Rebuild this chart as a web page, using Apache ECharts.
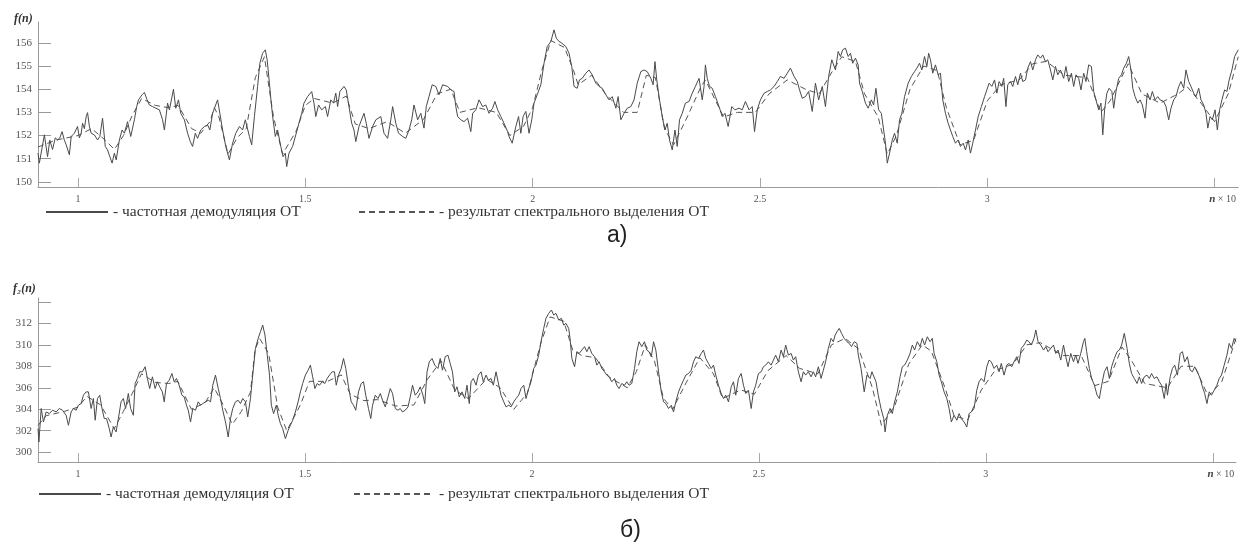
<!DOCTYPE html>
<html>
<head>
<meta charset="utf-8">
<script src="https://cdn.jsdelivr.net/npm/echarts@6/dist/echarts.min.js"></script>
<style>
html, body { margin: 0; padding: 0; background: #fff; }
#grafico { width: 1239px; height: 546px; }
</style>
</head>
<body>
<div id="grafico"></div>
<script>
// подписи и деления осей
var xTicks = [1, 1.5, 2, 2.5, 3, 3.5];
var topYTicks = [150, 151, 152, 153, 154, 155, 156];
var bottomYLabels = [300, 302, 304, 306, 308, 310, 312];
var bottomYTicks = [300, 302, 304, 306, 308, 310, 312, 314];

var solidName = '- частотная демодуляция ОТ';
var dashedName = '- результат спектрального выделения ОТ';

// а) частотная демодуляция, f(n)
var topSolid = [
    [0.912,151.24],[0.915,150.81],[0.926,152.03],[0.933,151.09],[0.938,151.8],[0.944,151.4],[0.950,151.9],[0.955,151.81],[0.960,151.9],[0.965,152.17],[0.970,151.8],[0.974,151.6],[0.981,151.17],[0.985,151.96],[0.992,152.1],[0.999,152.39],[1.003,151.9],[1.007,152.10],[1.010,152.53],[1.014,152.3],[1.018,152.82],[1.021,152.99],[1.025,152.4],[1.029,152.10],[1.036,152.03],[1.043,151.81],[1.048,151.96],[1.054,152.75],[1.060,151.53],[1.065,151.38],[1.070,151.09],[1.075,150.81],[1.080,151.24],[1.084,150.95],[1.091,151.81],[1.097,152.24],[1.102,152.10],[1.109,152.60],[1.116,151.96],[1.124,152.68],[1.129,153.25],[1.133,153.54],[1.141,153.76],[1.146,153.86],[1.152,153.54],[1.157,153.32],[1.164,153.25],[1.171,153.18],[1.179,153.11],[1.186,152.68],[1.190,152.24],[1.197,153.40],[1.201,153.11],[1.210,154.00],[1.215,153.18],[1.221,153.54],[1.226,152.96],[1.234,152.68],[1.241,152.10],[1.247,151.74],[1.252,151.53],[1.258,152.10],[1.263,151.88],[1.270,152.24],[1.278,152.39],[1.285,152.46],[1.290,152.24],[1.296,152.96],[1.307,153.54],[1.312,152.96],[1.318,152.24],[1.325,151.53],[1.333,150.95],[1.340,151.67],[1.347,152.10],[1.355,152.39],[1.362,152.24],[1.368,152.68],[1.377,151.96],[1.382,151.60],[1.388,152.82],[1.395,154.12],[1.400,155.12],[1.406,155.55],[1.412,155.70],[1.416,155.27],[1.421,154.26],[1.425,153.40],[1.429,152.68],[1.434,151.96],[1.439,152.24],[1.446,151.53],[1.451,151.09],[1.456,151.24],[1.459,150.66],[1.464,151.24],[1.472,151.53],[1.479,152.03],[1.486,152.53],[1.492,152.96],[1.497,153.40],[1.505,153.68],[1.514,153.90],[1.519,153.40],[1.523,152.82],[1.529,153.32],[1.536,153.11],[1.544,153.25],[1.549,152.82],[1.556,153.54],[1.562,153.40],[1.567,153.83],[1.571,153.25],[1.576,153.90],[1.585,154.12],[1.590,153.97],[1.596,153.25],[1.602,152.53],[1.607,152.24],[1.611,151.74],[1.618,152.39],[1.629,152.96],[1.634,152.53],[1.640,151.88],[1.648,152.39],[1.655,152.68],[1.666,152.82],[1.673,152.10],[1.681,151.88],[1.688,152.68],[1.692,153.25],[1.699,152.53],[1.705,152.10],[1.714,151.96],[1.721,151.88],[1.728,152.24],[1.734,152.68],[1.739,153.32],[1.747,152.68],[1.754,152.96],[1.761,152.32],[1.766,153.25],[1.772,153.68],[1.779,154.19],[1.787,154.12],
    [1.794,153.76],[1.802,154.19],[1.813,154.12],[1.820,153.97],[1.827,153.90],[1.831,153.25],[1.835,152.82],[1.842,152.68],[1.849,152.60],[1.857,152.75],[1.864,152.17],[1.868,152.96],[1.875,153.11],[1.882,153.54],[1.890,153.25],[1.897,153.32],[1.904,152.96],[1.912,153.18],[1.917,153.47],[1.923,153.11],[1.930,152.82],[1.937,152.53],[1.945,152.17],[1.948,151.96],[1.955,151.67],[1.963,152.39],[1.969,152.82],[1.974,152.10],[1.979,152.82],[1.985,153.04],[1.992,152.10],[1.998,152.68],[2.003,153.40],[2.010,153.76],[2.018,154.19],[2.025,155.12],[2.032,155.84],[2.040,156.06],[2.047,156.56],[2.052,156.20],[2.058,156.06],[2.064,155.99],[2.073,155.84],[2.080,155.55],[2.086,154.98],[2.091,154.12],[2.098,154.04],[2.103,154.40],[2.109,154.47],[2.117,154.69],[2.124,154.83],[2.131,154.62],[2.139,154.26],[2.146,154.12],[2.153,154.04],[2.161,153.76],[2.168,153.54],[2.175,153.68],[2.183,153.18],[2.188,153.68],[2.194,152.68],[2.201,152.96],[2.208,153.18],[2.216,153.25],[2.223,153.54],[2.230,154.26],[2.238,154.76],[2.245,154.83],[2.252,154.76],[2.260,154.47],[2.265,154.19],[2.269,155.19],[2.273,154.40],[2.278,153.68],[2.285,152.82],[2.291,152.24],[2.296,152.53],[2.301,151.81],[2.307,151.38],[2.313,152.24],[2.318,151.53],[2.323,152.68],[2.329,152.96],[2.336,153.40],[2.344,153.47],[2.351,153.83],[2.358,154.12],[2.366,154.47],[2.373,153.54],[2.377,154.12],[2.380,155.05],[2.384,154.47],[2.389,154.12],[2.395,154.04],[2.402,153.68],[2.410,153.25],[2.417,152.82],[2.423,152.96],[2.430,152.39],[2.438,153.25],[2.445,153.11],[2.454,153.18],[2.461,153.11],[2.468,153.47],[2.476,153.11],[2.483,153.25],[2.488,152.17],[2.494,153.11],[2.501,153.54],[2.509,153.83],[2.516,153.90],[2.523,153.97],[2.531,154.12],[2.538,154.33],[2.545,154.55],[2.553,154.47],[2.560,154.69],[2.567,154.91],[2.575,154.55],[2.582,154.33],[2.587,153.97],[2.593,153.61],[2.600,153.68],[2.607,153.90],[2.615,153.04],[2.622,154.26],[2.629,153.54],[2.637,154.12],[2.644,153.25],[2.651,154.55],[2.658,155.27],[2.666,154.83],
    [2.672,155.63],[2.677,155.41],[2.682,155.70],[2.688,155.77],[2.694,155.41],[2.699,155.55],[2.704,155.12],[2.710,155.34],[2.716,155.05],[2.719,154.26],[2.725,153.90],[2.732,153.40],[2.738,153.18],[2.745,153.54],[2.750,153.32],[2.755,154.04],[2.761,153.11],[2.767,152.96],[2.772,152.24],[2.776,151.67],[2.780,150.81],[2.785,151.24],[2.791,151.81],[2.796,152.10],[2.802,151.67],[2.807,152.68],[2.812,152.96],[2.818,153.68],[2.826,154.26],[2.833,154.55],[2.840,154.76],[2.845,154.91],[2.851,155.12],[2.856,154.83],[2.862,155.41],[2.867,154.98],[2.871,155.55],[2.875,155.27],[2.880,154.69],[2.886,155.05],[2.892,154.62],[2.897,154.69],[2.902,153.54],[2.908,152.96],[2.914,152.53],[2.919,152.24],[2.924,151.96],[2.930,151.67],[2.936,151.81],[2.941,151.53],[2.947,151.67],[2.952,151.38],[2.958,151.81],[2.963,151.24],[2.968,151.67],[2.974,152.24],[2.980,152.82],[2.987,153.25],[2.994,153.68],[2.999,153.97],[3.004,154.26],[3.010,154.12],[3.016,154.40],[3.021,153.83],[3.026,154.33],[3.032,154.12],[3.036,154.47],[3.041,153.25],[3.045,154.19],[3.051,154.33],[3.056,154.12],[3.062,154.55],[3.067,154.19],[3.073,154.69],[3.078,154.33],[3.084,154.40],[3.089,154.91],[3.095,155.19],[3.100,154.83],[3.106,155.27],[3.111,155.48],[3.117,155.34],[3.122,155.48],[3.128,155.19],[3.133,155.27],[3.139,154.83],[3.144,154.40],[3.150,154.98],[3.155,154.62],[3.161,154.83],[3.168,154.47],[3.173,154.98],[3.179,154.33],[3.185,154.69],[3.190,154.12],[3.195,154.62],[3.201,154.47],[3.206,153.97],[3.212,154.69],[3.217,154.33],[3.223,155.05],[3.229,154.98],[3.234,153.90],[3.239,153.54],[3.245,153.11],[3.250,153.40],[3.254,152.03],[3.258,153.11],[3.263,153.83],[3.268,154.04],[3.274,153.90],[3.278,153.18],[3.283,153.90],[3.289,154.47],[3.295,154.62],[3.300,154.91],[3.306,155.12],[3.311,155.41],[3.316,154.83],[3.320,154.04],[3.325,153.68],[3.331,153.40],[3.336,153.54],[3.341,153.32],[3.347,152.75],[3.352,153.83],[3.358,153.54],[3.363,153.90],[3.369,153.54],[3.375,153.68],[3.380,153.54],[3.388,153.47],[3.393,153.25],[3.399,152.68],[3.404,153.18],[3.410,153.54],[3.415,153.68],[3.421,154.12],[3.426,154.33],[3.432,154.04],[3.437,154.83],[3.443,154.33],[3.448,154.12],[3.454,153.83],[3.459,153.68],[3.465,154.04],[3.470,153.54],[3.476,153.32],[3.481,152.96],[3.485,152.32],[3.490,152.82],[3.495,152.68],[3.501,153.11],[3.506,152.24],[3.511,153.11],[3.516,153.54],[3.522,153.97],[3.527,153.90],[3.532,154.40],[3.538,154.83],[3.544,155.41],[3.552,155.70]
];

// а) результат спектрального выделения
var topDashed = [
    [0.912,151.5],[0.95,151.8],[1.00,152.0],[1.03,152.3],[1.06,151.8],[1.08,151.4],[1.10,152.0],[1.12,152.9],[1.14,153.6],[1.17,153.3],[1.20,153.2],[1.22,153.3],[1.25,152.3],[1.27,152.1],[1.29,152.6],[1.30,153.2],[1.31,152.8],[1.33,151.2],[1.35,151.9],[1.37,152.3],[1.39,154.5],[1.41,155.4],[1.43,152.8],[1.45,151.2],[1.48,152.2],[1.50,153.3],[1.52,153.6],[1.56,153.4],[1.59,153.7],[1.61,152.5],[1.64,152.3],[1.68,152.6],[1.72,152.1],[1.76,152.7],[1.79,153.8],[1.82,154.0],[1.84,153.0],[1.88,153.2],[1.92,153.0],[1.95,152.0],[1.98,152.4],[2.00,153.2],[2.02,154.8],[2.04,156.1],[2.07,155.8],[2.09,154.8],[2.10,154.2],[2.13,154.6],[2.16,153.8],[2.20,153.0],[2.23,153.0],[2.25,154.6],[2.27,154.5],[2.29,152.3],[2.31,151.6],[2.34,152.8],[2.37,154.1],[2.38,154.4],[2.42,152.8],[2.45,153.0],[2.49,153.0],[2.52,153.8],[2.56,154.4],[2.60,154.0],[2.63,153.8],[2.66,154.8],[2.68,155.4],[2.71,155.2],[2.73,153.8],[2.76,152.8],[2.78,151.2],[2.80,152.0],[2.83,154.0],[2.86,155.0],[2.89,154.8],[2.91,153.2],[2.94,151.6],[2.97,151.8],[3.00,153.5],[3.03,154.2],[3.07,154.4],[3.10,155.1],[3.13,155.2],[3.17,154.6],[3.22,154.5],[3.25,153.0],[3.27,153.5],[3.31,155.1],[3.34,153.8],[3.38,153.4],[3.42,153.8],[3.44,154.1],[3.47,153.4],[3.50,152.6],[3.53,153.8],[3.552,155.4]
];

// б) частотная демодуляция, f2(n)
var bottomSolid = [
    [0.912,302.2],[0.914,300.95],[0.919,304.07],[0.924,302.82],[0.930,303.75],[0.937,303.6],[0.944,303.91],[0.952,303.75],[0.959,304.07],[0.966,303.91],[0.974,303.44],[0.979,302.51],[0.985,303.75],[0.990,304.07],[0.996,303.91],[1.001,304.38],[1.007,304.53],[1.012,305.31],[1.018,305.62],[1.023,305.62],[1.029,304.07],[1.034,305.0],[1.038,302.98],[1.043,305.0],[1.048,305.31],[1.053,304.07],[1.058,303.13],[1.063,303.13],[1.069,302.2],[1.073,301.42],[1.078,302.35],[1.084,301.89],[1.089,303.13],[1.095,304.69],[1.100,305.0],[1.105,304.07],[1.111,305.47],[1.116,304.07],[1.122,303.44],[1.126,306.4],[1.131,306.87],[1.136,307.49],[1.142,307.49],[1.148,307.96],[1.153,306.87],[1.158,305.93],[1.164,307.02],[1.170,305.93],[1.175,306.56],[1.180,306.09],[1.186,305.62],[1.190,304.69],[1.195,306.4],[1.201,306.71],[1.207,307.33],[1.212,306.56],[1.217,306.87],[1.223,306.24],[1.229,305.31],[1.234,305.15],[1.239,304.38],[1.243,303.91],[1.248,302.82],[1.253,304.07],[1.259,303.91],[1.265,304.69],[1.270,304.38],[1.275,304.53],[1.281,304.69],[1.287,304.84],[1.292,304.69],[1.297,306.24],[1.303,307.18],[1.309,305.93],[1.314,305.0],[1.319,303.91],[1.325,302.82],[1.331,301.42],[1.336,303.13],[1.341,304.07],[1.347,304.69],[1.353,304.84],[1.358,304.53],[1.363,305.0],[1.369,304.69],[1.374,303.29],[1.380,305.0],[1.385,307.18],[1.391,309.67],[1.397,310.6],[1.402,311.22],[1.407,311.84],[1.412,310.91],[1.417,309.04],[1.422,307.18],[1.426,304.38],[1.431,303.6],[1.437,304.38],[1.441,303.44],[1.446,302.67],[1.451,302.2],[1.457,301.27],[1.463,302.04],[1.468,302.51],[1.473,302.98],[1.479,303.75],[1.485,304.69],[1.490,305.62],[1.495,306.4],[1.501,307.18],[1.507,307.64],[1.512,308.11],[1.517,307.02],[1.522,305.93],[1.527,306.4],[1.532,306.24],[1.538,306.56],[1.544,306.4],[1.549,306.87],[1.554,307.18],[1.560,307.49],[1.565,307.49],[1.569,306.24],[1.574,307.18],[1.580,307.8],[1.585,308.73],[1.590,307.8],[1.596,306.09],[1.602,304.69],[1.607,304.38],[1.612,303.91],[1.618,305.62],[1.624,306.4],[1.629,306.56],[1.634,305.31],[1.640,304.07],[1.645,303.13],[1.649,304.38],[1.655,305.31],[1.661,305.0],[1.666,305.47],[1.671,304.84],[1.677,304.22],[1.683,305.15],[1.688,305.93],[1.693,305.47],[1.699,304.07],[1.705,303.91],[1.710,304.07],[1.715,303.75],[1.721,303.91],[1.727,304.22],[1.732,305.15],[1.737,306.24],[1.743,305.31],[1.749,305.62],[1.754,306.09],[1.760,305.31],[1.764,304.53],[1.769,307.49],[1.774,308.42],[1.780,308.73],[1.786,308.11],
    [1.793,307.8],[1.798,308.73],[1.803,307.64],[1.809,308.89],[1.815,309.04],[1.820,308.27],[1.825,307.49],[1.830,305.62],[1.835,306.09],[1.840,305.15],[1.846,305.62],[1.852,305.0],[1.857,306.24],[1.862,304.53],[1.866,306.56],[1.871,306.87],[1.877,306.24],[1.882,307.18],[1.888,307.49],[1.893,306.56],[1.899,307.18],[1.904,306.71],[1.910,306.87],[1.915,306.24],[1.921,307.49],[1.927,306.24],[1.932,305.31],[1.938,304.69],[1.943,304.22],[1.949,304.38],[1.954,304.22],[1.960,304.69],[1.965,305.0],[1.971,305.31],[1.976,305.93],[1.982,306.24],[1.987,305.0],[1.993,305.93],[1.998,306.56],[2.004,307.8],[2.009,308.11],[2.015,309.04],[2.020,310.29],[2.026,311.53],[2.031,312.47],[2.037,312.93],[2.043,313.24],[2.048,312.78],[2.053,312.93],[2.059,312.31],[2.065,312.47],[2.070,311.84],[2.075,312.0],[2.081,311.53],[2.084,310.6],[2.088,308.73],[2.094,307.96],[2.099,309.36],[2.104,309.2],[2.110,309.51],[2.116,309.83],[2.121,309.36],[2.126,309.83],[2.132,309.2],[2.138,308.89],[2.143,308.11],[2.148,308.42],[2.154,307.8],[2.160,307.49],[2.165,307.18],[2.170,307.02],[2.176,306.56],[2.182,306.87],[2.187,306.24],[2.192,305.93],[2.198,306.4],[2.204,306.24],[2.209,306.56],[2.214,306.24],[2.220,306.4],[2.226,307.8],[2.231,309.36],[2.236,310.29],[2.242,309.83],[2.248,310.29],[2.253,309.51],[2.258,309.36],[2.263,308.89],[2.268,310.29],[2.273,309.51],[2.279,307.49],[2.285,305.62],[2.290,304.69],[2.295,304.53],[2.301,304.07],[2.307,304.38],[2.312,303.75],[2.317,304.69],[2.323,305.62],[2.329,306.24],[2.334,306.71],[2.339,307.18],[2.345,307.33],[2.351,307.64],[2.356,308.42],[2.361,308.89],[2.367,308.73],[2.373,309.2],[2.378,309.51],[2.383,308.73],[2.389,308.27],[2.395,307.8],[2.400,308.11],[2.405,307.18],[2.411,306.24],[2.417,305.47],[2.422,305.0],[2.427,305.31],[2.433,304.69],[2.439,306.09],[2.444,306.56],[2.449,305.31],[2.455,306.87],[2.461,307.33],[2.466,306.24],[2.471,305.47],[2.477,305.78],[2.483,304.07],[2.488,305.62],[2.493,306.24],[2.499,307.33],[2.505,307.49],[2.510,307.96],[2.515,308.11],[2.521,308.42],[2.527,308.11],[2.532,308.58],[2.537,309.04],[2.543,308.42],[2.549,309.51],[2.554,308.89],[2.559,309.98],[2.565,309.04],[2.571,309.2],[2.576,308.58],[2.581,308.89],[2.587,307.49],[2.593,306.56],[2.598,307.49],[2.603,307.18],[2.609,307.49],[2.615,307.02],[2.620,307.49],[2.625,307.02],[2.631,307.96],[2.637,306.87],[2.642,307.64],[2.647,308.42],[2.653,309.67],[2.659,310.6],[2.664,310.29],[2.668,310.91],
    [2.672,311.22],[2.677,311.53],[2.682,311.07],[2.688,310.6],[2.694,310.29],[2.699,310.13],[2.704,309.83],[2.710,310.29],[2.716,310.13],[2.719,309.04],[2.725,307.8],[2.732,305.62],[2.738,307.18],[2.745,306.87],[2.749,307.49],[2.753,307.33],[2.758,306.56],[2.763,305.31],[2.769,304.07],[2.775,303.13],[2.778,301.89],[2.783,303.44],[2.789,304.07],[2.794,303.6],[2.799,304.69],[2.805,305.62],[2.811,307.02],[2.816,307.96],[2.821,308.11],[2.827,308.58],[2.833,309.2],[2.838,309.98],[2.843,309.51],[2.849,310.29],[2.855,309.83],[2.860,310.6],[2.865,309.98],[2.871,310.75],[2.877,310.29],[2.882,310.6],[2.886,309.2],[2.892,308.42],[2.897,307.18],[2.902,306.56],[2.908,305.62],[2.914,305.0],[2.919,304.07],[2.924,302.82],[2.930,303.44],[2.936,302.98],[2.941,303.6],[2.946,303.13],[2.952,302.82],[2.958,302.35],[2.963,303.6],[2.968,303.75],[2.974,304.07],[2.980,305.78],[2.985,306.56],[2.990,306.87],[2.996,306.56],[3.002,307.96],[3.007,308.58],[3.012,308.42],[3.018,307.8],[3.024,308.11],[3.029,307.49],[3.034,308.27],[3.040,307.18],[3.046,308.11],[3.051,308.27],[3.057,307.96],[3.062,308.42],[3.068,308.89],[3.073,308.27],[3.078,309.67],[3.084,309.98],[3.090,310.44],[3.095,310.29],[3.100,309.98],[3.106,310.6],[3.110,311.38],[3.115,310.29],[3.121,309.98],[3.127,309.51],[3.132,309.83],[3.137,309.36],[3.143,309.67],[3.149,309.98],[3.154,309.2],[3.159,309.51],[3.165,308.58],[3.171,309.98],[3.176,308.89],[3.181,307.96],[3.187,309.2],[3.193,308.42],[3.198,309.04],[3.203,308.27],[3.209,309.2],[3.215,310.29],[3.218,310.6],[3.222,309.36],[3.228,307.8],[3.233,306.87],[3.239,306.24],[3.245,305.31],[3.250,305.0],[3.255,306.24],[3.261,307.49],[3.267,307.96],[3.272,306.87],[3.277,307.96],[3.283,308.73],[3.289,309.36],[3.294,309.51],[3.299,309.98],[3.305,311.07],[3.311,309.67],[3.316,308.27],[3.321,307.33],[3.327,306.87],[3.333,306.4],[3.338,307.02],[3.343,306.4],[3.349,307.02],[3.355,307.18],[3.360,306.87],[3.365,307.33],[3.371,306.87],[3.377,307.02],[3.382,306.56],[3.387,306.24],[3.393,305.0],[3.397,306.4],[3.400,305.31],[3.406,307.02],[3.411,307.8],[3.416,308.11],[3.422,307.18],[3.428,309.2],[3.433,309.36],[3.438,308.42],[3.444,308.89],[3.450,307.64],[3.455,307.49],[3.460,307.96],[3.466,307.49],[3.472,306.87],[3.477,306.09],[3.482,305.47],[3.487,304.53],[3.492,305.62],[3.497,305.31],[3.503,305.78],[3.509,306.24],[3.514,306.87],[3.519,307.18],[3.525,308.11],[3.531,309.04],[3.536,310.13],[3.541,309.67],[3.547,310.6],[3.551,310.3]
];

// б) результат спектрального выделения
var bottomDashed = [
    [0.912,302.5],[0.93,303.4],[0.97,303.8],[1.00,304.2],[1.02,305.2],[1.05,304.4],[1.08,302.2],[1.10,303.8],[1.12,305.5],[1.14,307.3],[1.17,306.5],[1.20,306.4],[1.22,306.6],[1.25,304.0],[1.28,304.6],[1.30,306.0],[1.32,304.4],[1.34,302.6],[1.36,303.8],[1.38,305.6],[1.39,309.5],[1.40,310.6],[1.42,309.2],[1.44,304.2],[1.46,302.0],[1.49,304.4],[1.51,306.6],[1.55,306.6],[1.58,307.2],[1.60,305.4],[1.63,304.8],[1.66,304.9],[1.70,304.3],[1.74,304.4],[1.77,306.8],[1.80,308.5],[1.83,305.8],[1.86,305.0],[1.90,306.8],[1.93,306.0],[1.96,304.0],[1.99,305.5],[2.02,310.2],[2.04,312.6],[2.07,312.2],[2.09,309.5],[2.11,309.0],[2.14,308.8],[2.17,307.0],[2.21,306.0],[2.23,307.5],[2.25,310.0],[2.27,308.5],[2.29,305.0],[2.31,304.0],[2.34,306.5],[2.37,308.8],[2.40,307.3],[2.42,305.0],[2.46,305.8],[2.49,305.4],[2.52,307.6],[2.56,309.0],[2.59,307.8],[2.63,307.3],[2.66,310.0],[2.69,310.6],[2.72,309.6],[2.75,306.0],[2.77,302.5],[2.80,304.4],[2.83,308.2],[2.86,310.0],[2.88,309.4],[2.91,306.0],[2.93,303.4],[2.96,303.0],[2.99,305.8],[3.02,307.6],[3.06,308.2],[3.09,310.0],[3.12,310.2],[3.17,309.0],[3.21,309.0],[3.24,306.2],[3.27,306.6],[3.30,309.8],[3.32,308.6],[3.35,306.4],[3.40,306.0],[3.43,308.0],[3.46,308.0],[3.49,305.2],[3.52,306.6],[3.551,310.6]
];

var serif = '"Liberation Serif", "DejaVu Serif", serif';
var lineColor = '#4a4a4a';
var axisColor = '#9a9a9a';

function xAxisFor(gridIndex, maxN) {
    return {
        type: 'value',
        gridIndex: gridIndex,
        min: 0.912,
        max: maxN,
        axisLine: { show: true, lineStyle: { color: axisColor, width: 1 } },
        axisTick: { show: true, inside: true, length: 9, customValues: xTicks, lineStyle: { color: '#aaa' } },
        axisLabel: {
            customValues: xTicks,
            margin: 7,
            fontSize: 10,
            fontFamily: serif,
            color: '#555',
            formatter: function (v) {
                if (v === 3.5) return '{sp|}{n|n} × 10';
                return String(v);
            },
            rich: {
                sp: { width: 16 },
                n: { fontStyle: 'italic', fontWeight: 'bold', fontSize: 11, fontFamily: serif, color: '#444' }
            }
        },
        splitLine: { show: false }
    };
}

function yAxisFor(gridIndex, min, max, ticks, labels) {
    return {
        type: 'value',
        gridIndex: gridIndex,
        min: min,
        max: max,
        axisLine: { show: true, lineStyle: { color: axisColor, width: 1 } },
        axisTick: { show: true, inside: true, length: 13, customValues: ticks, lineStyle: { color: '#999' } },
        axisLabel: { customValues: labels, margin: 6, fontSize: 11, fontFamily: serif, color: '#555' },
        splitLine: { show: false }
    };
}

// подпись линии без маркера
function legendFor(name, left, top, width) {
    return {
        data: [name],
        left: left,
        top: top,
        itemWidth: width,
        itemHeight: 10,
        selectedMode: false,
        padding: 0,
        itemStyle: { opacity: 0 },
        textStyle: { fontFamily: serif, fontSize: 15.5, color: '#333' }
    };
}

var chartDom = document.getElementById('grafico');
var myChart = echarts.init(chartDom, null, { renderer: 'canvas' });

var option = {
    backgroundColor: '#ffffff',
    animation: false,
    grid: [
        { left: 38, top: 22, width: 1201, height: 165 },
        { left: 38, top: 298, width: 1198, height: 164 }
    ],
    xAxis: [xAxisFor(0, 3.552), xAxisFor(1, 3.551)],
    yAxis: [
        yAxisFor(0, 149.78, 156.9, topYTicks, topYTicks),
        yAxisFor(1, 299.09, 314.36, bottomYTicks, bottomYLabels)
    ],
    legend: [
        legendFor(solidName, 45, 204, 62),
        legendFor(dashedName, 358, 204, 75),
        legendFor(solidName, 38, 486, 62),
        legendFor(dashedName, 353, 486, 80)
    ],
    graphic: [
        { type: 'text', left: 14, top: 13, style: { text: 'f(n)', font: 'italic bold 12px "Liberation Serif"', fill: '#333' } },
        { type: 'text', left: 13, top: 283, style: { text: 'f₂(n)', font: 'italic bold 12px "Liberation Serif"', fill: '#333' } },
        { type: 'text', left: 607, top: 224, style: { text: 'а)', font: '23px "Liberation Sans"', fill: '#222' } },
        { type: 'text', left: 620, top: 519, style: { text: 'б)', font: '23px "Liberation Sans"', fill: '#222' } }
    ],
    series: [
        {
            name: solidName, type: 'line', xAxisIndex: 0, yAxisIndex: 0,
            data: topSolid, symbol: 'none', showSymbol: false,
            lineStyle: { color: lineColor, width: 1 }, itemStyle: { color: lineColor }, z: 3
        },
        {
            name: dashedName, type: 'line', xAxisIndex: 0, yAxisIndex: 0,
            data: topDashed, symbol: 'none', showSymbol: false,
            lineStyle: { color: '#555', width: 1, type: [6, 4] }, itemStyle: { color: '#555' }, z: 2
        },
        {
            name: solidName, type: 'line', xAxisIndex: 1, yAxisIndex: 1,
            data: bottomSolid, symbol: 'none', showSymbol: false,
            lineStyle: { color: lineColor, width: 1 }, itemStyle: { color: lineColor }, z: 3
        },
        {
            name: dashedName, type: 'line', xAxisIndex: 1, yAxisIndex: 1,
            data: bottomDashed, symbol: 'none', showSymbol: false,
            lineStyle: { color: '#555', width: 1, type: [6, 4] }, itemStyle: { color: '#555' }, z: 2
        }
    ]
};

myChart.setOption(option);
</script>
</body>
</html>
